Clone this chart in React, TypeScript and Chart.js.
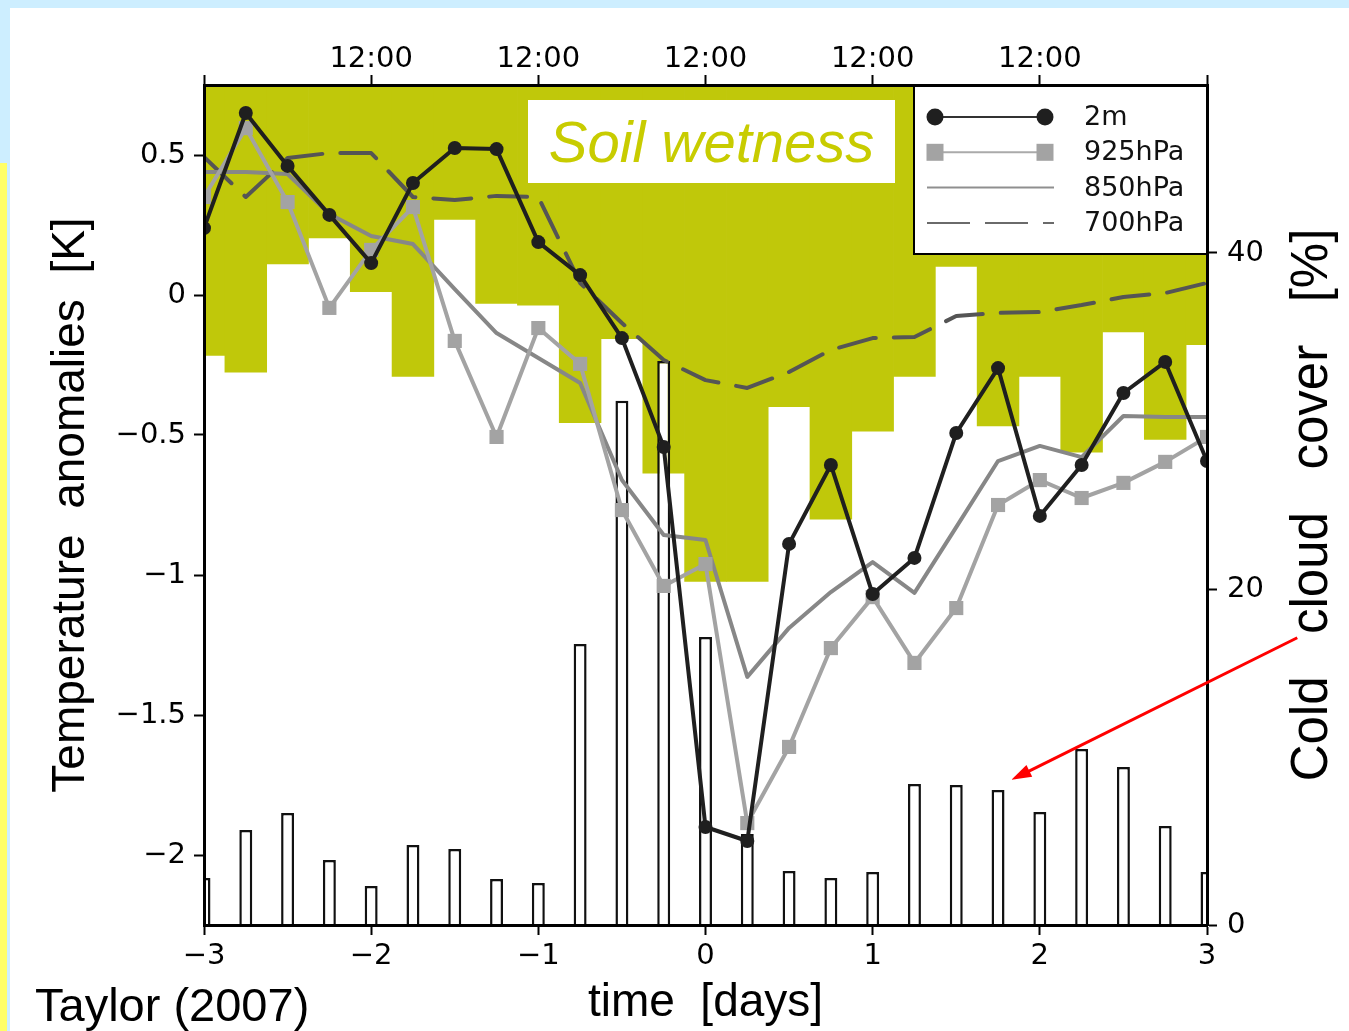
import React, { useEffect, useRef } from 'react';
import { Chart, registerables } from 'chart.js';

Chart.register(...registerables);

// ---- data ----
const times = [-3, -2.75, -2.5, -2.25, -2, -1.75, -1.5, -1.25, -1, -0.75, -0.5, -0.25, 0, 0.25, 0.5, 0.75, 1, 1.25, 1.5, 1.75, 2, 2.25, 2.5, 2.75, 3];

const t2m = [0.239, 0.65, 0.461, 0.286, 0.114, 0.4, 0.525, 0.521, 0.189, 0.071, -0.154, -0.543, -1.9, -1.95, -0.889, -0.607, -1.068, -0.939, -0.493, -0.261, -0.789, -0.607, -0.35, -0.239, -0.593];
const t925 = [0.35, 0.596, 0.332, -0.046, 0.161, 0.314, -0.164, -0.507, -0.118, -0.246, -0.768, -1.039, -0.961, -1.886, -1.614, -1.261, -1.079, -1.314, -1.118, -0.75, -0.661, -0.725, -0.671, -0.596, -0.507];
const t850 = [0.439, 0.439, 0.432, 0.289, 0.211, 0.182, 0.021, -0.136, -0.225, -0.314, -0.661, -0.857, -0.875, -1.364, -1.189, -1.061, -0.954, -1.064, -0.829, -0.593, -0.539, -0.579, -0.432, -0.436, -0.436];
const t700 = [0.493, 0.35, 0.489, 0.507, 0.507, 0.35, 0.339, 0.354, 0.35, 0.043, -0.1, -0.232, -0.304, -0.332, -0.275, -0.196, -0.154, -0.15, -0.075, -0.064, -0.061, -0.036, -0.007, 0.007, 0.043];

// soil wetness: depth of the shaded band from the top of the panel (% of panel)
const soilWetness = [32.2, 34.2, 21.3, 18.2, 24.6, 34.7, 16.0, 26.0, 26.2, 40.2, 30.2, 46.2, 59.1, 59.1, 38.3, 51.7, 41.2, 34.7, 21.6, 40.6, 34.7, 43.7, 29.4, 42.2, 30.9];

// cold cloud cover [%]
const coldCloud = [2.8, 5.65, 6.67, 3.87, 2.32, 4.76, 4.52, 2.74, 2.5, 16.73, 31.2, 33.57, 17.14, 5.42, 3.21, 2.8, 3.15, 8.39, 8.33, 8.04, 6.73, 10.48, 9.4, 5.89, 3.15];

const leftTicks = [-2, -1.5, -1, -0.5, 0, 0.5];
const rightTicks = [0, 20, 40];
const dayTicks = [-3, -2, -1, 0, 1, 2, 3];
const topLabelDays = [-2, -1, 0, 1, 2];
const topLabel = '12:00';

const seriesNames = ['2m', '925hPa', '850hPa', '700hPa'];
const soilLabel = 'Soil wetness';
const leftTitle = 'Temperature  anomalies  [K]';
const bottomTitle = 'time  [days]';
const rightTitle = 'Cold   cloud   cover   [%]';
const sourceLabel = 'Taylor (2007)';

// red arrow annotation: [day, cloud cover %] tail -> head
const arrowTail = [3.54, 17.1];
const arrowHead = [1.83, 8.64];

// ---- styles ----
const C2m = '#1f1f1f';
const C925 = '#a3a3a3';
const C850 = '#878787';
const C700 = '#555555';
const OLIVE = '#c0c80a';
const SOIL_TEXT = '#c8cc00';

const tickFont = { family: "'DejaVu Sans', sans-serif", size: 29 };
const titleFont = { family: "'Liberation Sans', Arial, sans-serif", size: 46 };

const fmt = (v: number) => (v < 0 ? '\u2212' + String(Math.abs(v)) : String(v));

const gridOpts = {
  display: true,
  drawOnChartArea: false,
  drawTicks: true,
  tickLength: 10,
  tickWidth: 2,
  tickColor: '#000',
  z: 1,
};
const borderOpts = { display: true, width: 3, color: '#000', z: 1 };

const xy = (arr: number[]) => times.map((t, i) => ({ x: t, y: arr[i] }));

const overlayPlugin = {
  id: 'overlay',
  afterDatasetsDraw(chart: any) {
    const { ctx, chartArea: ca } = chart;
    ctx.save();
    // Soil wetness label box
    const bx = ca.left + 324, by = ca.top + 15, bw = 367, bh = 83;
    ctx.fillStyle = '#ffffff';
    ctx.fillRect(bx, by, bw, bh);
    ctx.fillStyle = SOIL_TEXT;
    ctx.font = "italic 58px 'Liberation Sans', Arial, sans-serif";
    ctx.textAlign = 'center';
    ctx.textBaseline = 'alphabetic';
    ctx.fillText(soilLabel, bx + bw / 2, by + 62);

    // legend
    const lw = 293, lh = 169;
    const lx = ca.right - lw, ly = ca.top;
    ctx.fillStyle = '#ffffff';
    ctx.fillRect(lx, ly, lw, lh);
    ctx.strokeStyle = '#000';
    ctx.lineWidth = 2;
    ctx.strokeRect(lx, ly, lw, lh);
    const colors = [C2m, C925, C850, C700];
    seriesNames.forEach((name, i) => {
      const y = ly + 32 + i * 35.3;
      const xa = lx + 13, xb = lx + 140;
      const m1 = lx + 21, m2 = lx + 131;
      ctx.save();
      ctx.strokeStyle = i === 1 ? '#aaaaaa' : i === 2 ? '#8f8f8f' : i === 3 ? '#6a6a6a' : '#333333';
      ctx.lineWidth = 2;
      ctx.setLineDash(i === 3 ? [43, 15] : []);
      ctx.beginPath();
      ctx.moveTo(i < 2 ? m1 : xa, y);
      ctx.lineTo(i < 2 ? m2 : xb, y);
      ctx.stroke();
      ctx.restore();
      if (i === 0) {
        ctx.fillStyle = colors[0];
        [m1, m2].forEach((mx) => {
          ctx.beginPath();
          ctx.arc(mx, y, 8.5, 0, Math.PI * 2);
          ctx.fill();
        });
      } else if (i === 1) {
        ctx.fillStyle = colors[1];
        [m1, m2].forEach((mx) => ctx.fillRect(mx - 8.5, y - 8.5, 17, 17));
      }
      ctx.fillStyle = '#111';
      ctx.font = "27px 'DejaVu Sans', sans-serif";
      ctx.textAlign = 'left';
      ctx.textBaseline = 'middle';
      ctx.fillText(name, lx + 170, y + 1);
    });
    ctx.restore();
  },
  afterDraw(chart: any) {
    const { ctx, chartArea: ca, scales } = chart;
    ctx.save();
    // right axis title (reads bottom to top)
    ctx.translate(ca.right + 120, (ca.top + ca.bottom) / 2);
    ctx.rotate(-Math.PI / 2);
    ctx.fillStyle = '#000';
    ctx.font = "51px 'Liberation Sans', Arial, sans-serif";
    ctx.textAlign = 'center';
    ctx.textBaseline = 'alphabetic';
    ctx.fillText(rightTitle, 0, 0);
    ctx.restore();

    // source label
    ctx.save();
    ctx.fillStyle = '#000';
    ctx.font = "47px 'Liberation Sans', Arial, sans-serif";
    ctx.textAlign = 'left';
    ctx.textBaseline = 'alphabetic';
    ctx.fillText(sourceLabel, 35, ca.bottom + 96);
    ctx.restore();

    // red arrow
    const xs = scales.x, ys = scales.y2;
    const x0 = xs.getPixelForValue(arrowTail[0]), y0 = ys.getPixelForValue(arrowTail[1]);
    const x1 = xs.getPixelForValue(arrowHead[0]), y1 = ys.getPixelForValue(arrowHead[1]);
    const ang = Math.atan2(y1 - y0, x1 - x0);
    const hl = 20, hw = 6.5;
    const cx = x1 - hl * Math.cos(ang), cy = y1 - hl * Math.sin(ang);
    ctx.save();
    ctx.strokeStyle = '#ff0000';
    ctx.fillStyle = '#ff0000';
    ctx.lineWidth = 3;
    ctx.beginPath();
    ctx.moveTo(x0, y0);
    ctx.lineTo(cx + 2 * Math.cos(ang), cy + 2 * Math.sin(ang));
    ctx.stroke();
    ctx.beginPath();
    ctx.moveTo(x1, y1);
    ctx.lineTo(cx + hw * Math.sin(ang), cy - hw * Math.cos(ang));
    ctx.lineTo(cx - hw * Math.sin(ang), cy + hw * Math.cos(ang));
    ctx.closePath();
    ctx.fill();
    ctx.restore();
  },
};

export default function App() {
  const ref = useRef<HTMLCanvasElement>(null);

  useEffect(() => {
    const canvas = ref.current;
    if (!canvas) return;
    const chart = new Chart(canvas, {
      type: 'line',
      data: {
        datasets: [
          {
            label: seriesNames[0],
            data: xy(t2m),
            xAxisID: 'x',
            yAxisID: 'y',
            borderColor: C2m,
            backgroundColor: C2m,
            borderWidth: 4,
            pointRadius: 7,
            pointBorderWidth: 0,
            pointBackgroundColor: C2m,
            pointStyle: 'circle',
            tension: 0,
            borderJoinStyle: 'round',
            clip: 0,
            order: 1,
          },
          {
            label: seriesNames[1],
            data: xy(t925),
            xAxisID: 'x',
            yAxisID: 'y',
            borderColor: C925,
            backgroundColor: C925,
            borderWidth: 4,
            pointRadius: 10,
            pointBorderWidth: 0,
            pointBackgroundColor: C925,
            pointStyle: 'rect',
            tension: 0,
            borderJoinStyle: 'round',
            clip: 0,
            order: 2,
          },
          {
            label: seriesNames[2],
            data: xy(t850),
            xAxisID: 'x',
            yAxisID: 'y',
            borderColor: C850,
            borderWidth: 4,
            pointRadius: 0,
            tension: 0,
            borderJoinStyle: 'round',
            clip: 0,
            order: 3,
          },
          {
            label: seriesNames[3],
            data: xy(t700),
            xAxisID: 'x',
            yAxisID: 'y',
            borderColor: C700,
            borderWidth: 4,
            borderDash: [38, 18],
            borderCapStyle: 'round',
            pointRadius: 0,
            tension: 0,
            borderJoinStyle: 'round',
            clip: 0,
            order: 4,
          },
          {
            type: 'bar',
            label: 'Cold cloud cover',
            data: xy(coldCloud),
            xAxisID: 'x',
            yAxisID: 'y2',
            backgroundColor: '#ffffff',
            borderColor: '#111111',
            borderWidth: 2.5,
            barPercentage: 0.31,
            categoryPercentage: 1,
            grouped: false,
            clip: 0,
            order: 5,
          },
          {
            type: 'bar',
            label: 'Soil wetness',
            data: times.map((t, i) => ({ x: t, y: [0, soilWetness[i]] })),
            xAxisID: 'x',
            yAxisID: 'ySoil',
            backgroundColor: OLIVE,
            borderWidth: 0,
            barPercentage: 1,
            categoryPercentage: 1,
            grouped: false,
            clip: 0,
            order: 6,
          },
        ] as any,
      },
      options: {
        animation: false,
        responsive: false,
        maintainAspectRatio: false,
        devicePixelRatio: 1,
        events: [],
        layout: { padding: 0 },
        plugins: {
          legend: { display: false },
          tooltip: { enabled: false },
          title: { display: false },
        },
        scales: {
          x: {
            type: 'linear',
            position: 'bottom',
            min: -3,
            max: 3,
            offset: false,
            afterBuildTicks: (s: any) => {
              s.ticks = dayTicks.map((v) => ({ value: v }));
            },
            afterFit: (s: any) => {
              s.height = 106;
            },
            ticks: {
              font: tickFont,
              color: '#000',
              padding: 4,
              autoSkip: false,
              maxRotation: 0,
              z: 1,
              callback: (v: any) => fmt(Number(v)),
            },
            grid: { ...gridOpts, offset: false },
            border: borderOpts,
            title: {
              display: true,
              text: bottomTitle,
              font: titleFont,
              color: '#000',
              padding: { top: 0, bottom: 0 },
            },
          },
          xTop: {
            type: 'linear',
            position: 'top',
            min: -3,
            max: 3,
            offset: false,
            afterBuildTicks: (s: any) => {
              s.ticks = dayTicks.map((v) => ({ value: v }));
            },
            afterFit: (s: any) => {
              s.height = 85;
            },
            ticks: {
              font: tickFont,
              color: '#000',
              padding: -2,
              autoSkip: false,
              maxRotation: 0,
              z: 1,
              callback: (v: any) => (topLabelDays.includes(Number(v)) ? topLabel : ''),
            },
            grid: { ...gridOpts, offset: false },
            border: borderOpts,
          },
          y: {
            type: 'linear',
            position: 'left',
            min: -2.25,
            max: 0.75,
            afterBuildTicks: (s: any) => {
              s.ticks = leftTicks.map((v) => ({ value: v }));
            },
            afterFit: (s: any) => {
              s.width = 204;
            },
            ticks: {
              font: tickFont,
              color: '#000',
              padding: 8,
              autoSkip: false,
              z: 1,
              callback: (v: any) => fmt(Number(v)),
            },
            grid: gridOpts,
            border: borderOpts,
            title: {
              display: true,
              text: leftTitle,
              font: titleFont,
              color: '#000',
              padding: { top: 44, bottom: 0 },
            },
          },
          y2: {
            type: 'linear',
            position: 'right',
            min: 0,
            max: 50,
            afterBuildTicks: (s: any) => {
              s.ticks = rightTicks.map((v) => ({ value: v }));
            },
            afterFit: (s: any) => {
              s.width = 142;
            },
            ticks: {
              font: tickFont,
              color: '#000',
              padding: 10,
              autoSkip: false,
              z: 1,
              callback: (v: any) => fmt(Number(v)),
            },
            grid: gridOpts,
            border: borderOpts,
          },
          ySoil: {
            type: 'linear',
            display: false,
            reverse: true,
            min: 0,
            max: 100,
          },
        },
      } as any,
      plugins: [overlayPlugin],
    });
    return () => chart.destroy();
  }, []);

  return (
    <div
      style={{
        position: 'absolute',
        left: 0,
        top: 0,
        width: 1349,
        height: 1031,
        background: '#ffffff',
        overflow: 'hidden',
      }}
    >
      <div style={{ position: 'absolute', left: 0, top: 0, width: 1349, height: 8, background: '#cdeeff' }} />
      <div style={{ position: 'absolute', left: 0, top: 0, width: 10, height: 1031, background: '#cdeeff' }} />
      <div style={{ position: 'absolute', left: 0, top: 163, width: 7, height: 868, background: '#ffff66' }} />
      <canvas
        ref={ref}
        width={1349}
        height={1031}
        style={{ position: 'absolute', left: 0, top: 0, width: 1349, height: 1031 }}
      />
    </div>
  );
}
